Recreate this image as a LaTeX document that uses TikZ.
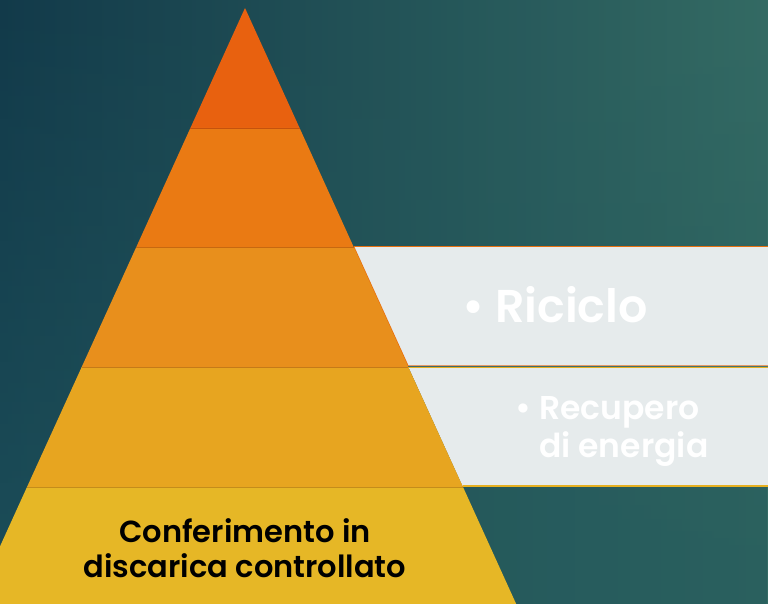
\documentclass[tikz,border=0pt]{standalone}
\usepackage{fontspec}
\usetikzlibrary{fadings}
\setmainfont{Poppins}
\newfontfamily\popsb{Poppins}[UprightFont=* SemiBold, BoldFont=* Bold]
\definecolor{bgTL}{HTML}{123A4A}
\definecolor{bgTR}{HTML}{346B64}
\definecolor{bgBL}{HTML}{1C4E59}
\definecolor{bgBR}{HTML}{2A605E}
\definecolor{bandA}{HTML}{E8610F}
\definecolor{bandB}{HTML}{EA7A13}
\definecolor{bandC}{HTML}{E88F1C}
\definecolor{bandD}{HTML}{E7A520}
\definecolor{bandE}{HTML}{E6B726}
\definecolor{boxfill}{HTML}{E6EBEC}
\definecolor{lineor}{HTML}{E8700F}
\definecolor{linesal}{HTML}{E59A6A}
\definecolor{lineyel}{HTML}{E6B020}
\tikzfading[name=fadeup, top color=transparent!100, bottom color=transparent!0]
\tikzset{
  band/.style={draw=#1!85!black, line width=0.6pt},
  sidebox/.style={fill=boxfill},
  whitetxt/.style={text=white, inner sep=0pt, font=\popsb},
}
\begin{document}
\begin{tikzpicture}[x=1pt,y=-1pt]
\useasboundingbox (0,0) rectangle (768,604);
\clip (0,0) rectangle (768,604);
% background
\shade[left color=bgTL, right color=bgTR] (0,0) rectangle (768,604);
\shade[left color=bgBL, right color=bgBR, path fading=fadeup] (0,0) rectangle (768,604);
% side boxes
\fill[sidebox] (353.7,247) -- (768,247) -- (768,366) -- (407.9,366) -- cycle;
\draw[lineor, line width=1.6pt] (353.7,246.6) -- (768,246.6);
\draw[linesal, line width=1.2pt] (407.9,365.6) -- (768,365.6);
\draw[lineor, line width=1.4pt] (353.7,247) -- (407.9,366);
\fill[sidebox] (408.8,368) -- (768,368) -- (768,486) -- (462.5,486) -- cycle;
\draw[lineyel, line width=1.4pt] (408.3,367.4) -- (768,367.4);
\draw[lineyel, line width=1.6pt] (462.5,486.2) -- (768,486.2);
% pyramid bands
\fill[bandA] (245,8) -- (299.6,128) -- (190.4,128) -- cycle;
\fill[bandB] (190.4,128) -- (299.6,128) -- (353.7,247) -- (136.3,247) -- cycle;
\fill[bandC] (136.3,247) -- (353.7,247) -- (408.3,367) -- (81.7,367) -- cycle;
\fill[bandD] (81.7,367) -- (408.3,367) -- (463,487) -- (27,487) -- cycle;
\fill[bandE] (27,487) -- (463,487) -- (516.2,604) -- (-26.2,604) -- cycle;
\draw[band=bandA] (190.4,128) -- (299.6,128);
\draw[band=bandB] (136.3,247) -- (353.7,247);
\draw[band=bandC] (81.7,367) -- (408.3,367);
\draw[band=bandD] (27,487) -- (463,487);
% texts
\node[whitetxt, anchor=base west, font=\popsb\fontsize{46}{50}\selectfont] (ric) at (462,322) {\textbullet\ Riciclo};
\node[whitetxt, anchor=base west, font=\popsb\fontsize{33}{38}\selectfont] (rec1) at (515,419) {\textbullet};
\node[whitetxt, anchor=base west, font=\popsb\fontsize{33}{38}\selectfont] (rec2) at (539,419) {Recupero};
\node[whitetxt, anchor=base west, font=\popsb\fontsize{33}{38}\selectfont] (rec3) at (539,457) {di energia};
\node[inner sep=0pt, anchor=base, font=\popsb\fontsize{30.5}{35}\selectfont, text=black] (con1) at (245,542) {Conferimento in};
\node[inner sep=0pt, anchor=base, font=\popsb\fontsize{30.5}{35}\selectfont, text=black] (con2) at (245,577) {discarica controllato};
\end{tikzpicture}
\end{document}
